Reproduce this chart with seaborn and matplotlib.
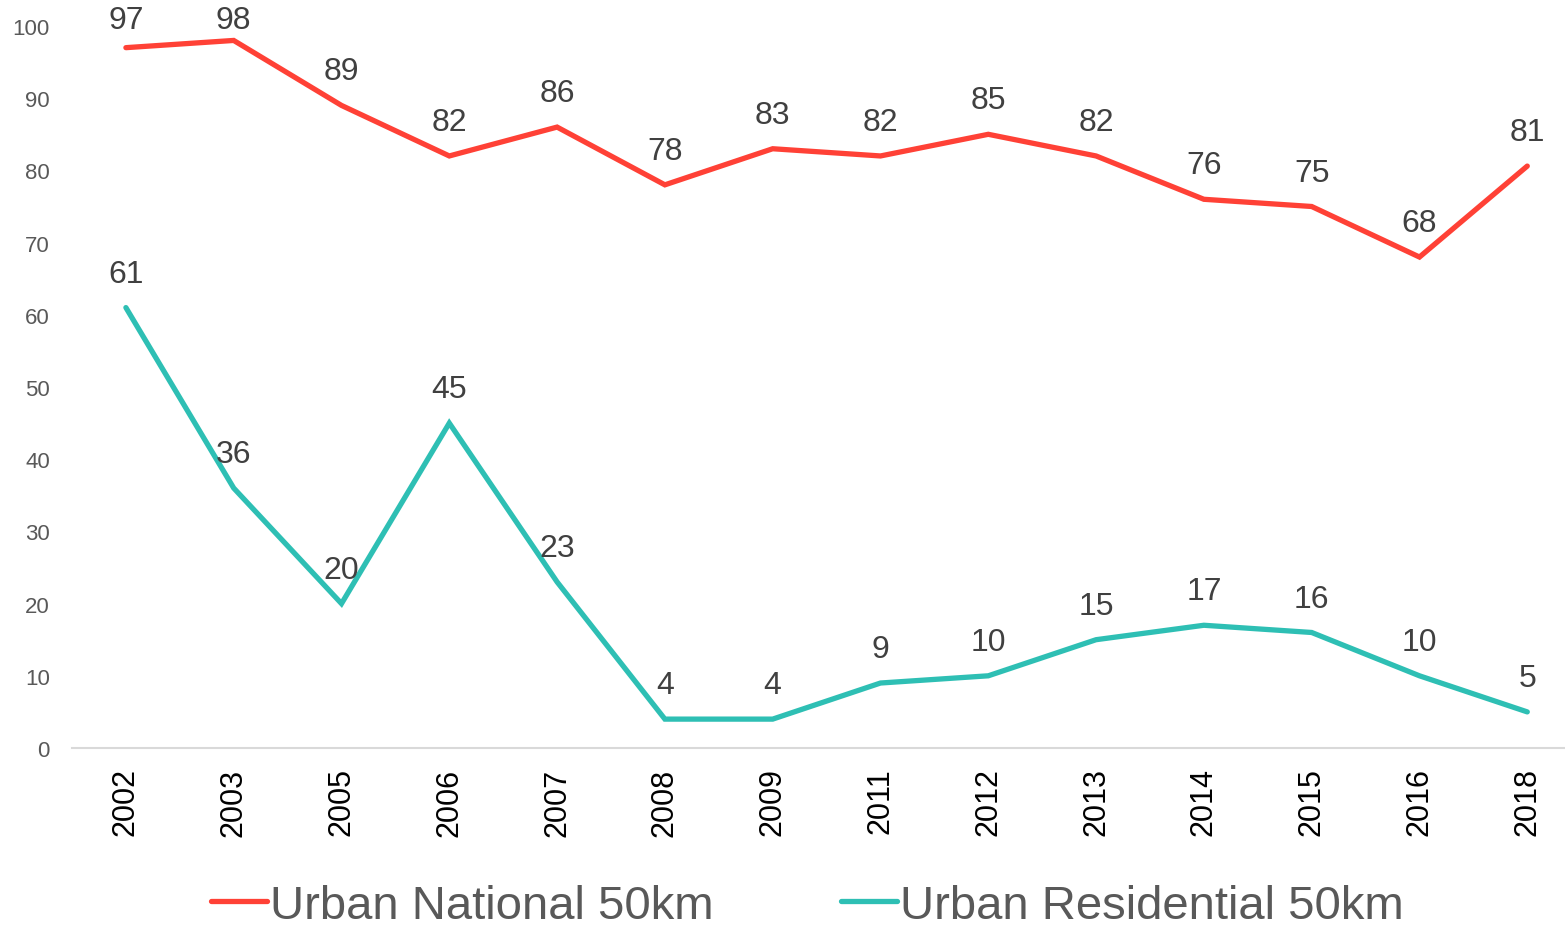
import pandas as pd
import numpy as np
import seaborn as sns
from matplotlib import pyplot as plt

"""Данные"""
years = ['2002', '2003', '2005', '2006', '2007', '2008', '2009',
         '2011', '2012', '2013', '2014', '2015', '2016', '2018']
national = [97, 98, 89, 82, 86, 78, 83, 82, 85, 82, 76, 75, 68, 80.6]
residential = [61, 36, 20, 45, 23, 4, 4, 9, 10, 15, 17, 16, 10, 5]
series_names = ['Urban National 50km', 'Urban Residential 50km']
colors = ['#FF4136', '#2EBFB4']

db = pd.concat([
    pd.DataFrame({'Year': years, 'Value': national, 'Series': series_names[0]}),
    pd.DataFrame({'Year': years, 'Value': residential, 'Series': series_names[1]}),
])

sns.set_style('white')
plt.rcParams['font.family'] = ['Liberation Sans', 'DejaVu Sans']

fig = plt.figure(figsize=(15.65, 9.28), dpi=100)
ax = fig.add_axes([72 / 1565, 179 / 928, 1 - 72 / 1565, (749 - 27) / 928])

sns.lineplot(data=db, x='Year', y='Value', hue='Series', palette=colors,
             linewidth=3.8, sort=False, ax=ax, legend=True)
for line in ax.lines:
    line.set_solid_joinstyle('miter')
    line.set_solid_capstyle('round')

"""Подписи значений"""
for vals in [national, residential]:
    for i, v in enumerate(vals):
        ax.text(i, min(v + 4.7, 100.8), f'{v:.0f}', ha='center', va='center',
                fontsize=23, color='#404040', clip_on=False)

ax.set_xlim(-0.5, 13.35)
ax.set_ylim(0, 100)
ax.set_yticks(np.arange(0, 101, 10))
ax.set_xlabel('')
ax.set_ylabel('')
for s in ['top', 'right', 'left']:
    ax.spines[s].set_visible(False)
ax.spines['bottom'].set_color('#D9D9D9')
ax.spines['bottom'].set_linewidth(1.5)
ax.tick_params(axis='x', rotation=90, labelsize=22, labelcolor='black', length=0, pad=14)
ax.tick_params(axis='y', labelsize=16, labelcolor='#595959', length=0, pad=16)

leg = ax.legend(loc='center', bbox_to_anchor=(807 / 1565, 1 - 907 / 928),
                bbox_transform=fig.transFigure, ncol=2, frameon=False,
                fontsize=34, handlelength=1.2, handletextpad=0.05,
                columnspacing=2.7, borderpad=0)
for t in leg.get_texts():
    t.set_color('#595959')
for h in leg.get_lines():
    h.set_linewidth(3.8)
    h.set_solid_capstyle('round')

fig.savefig('out.png', dpi=100)
